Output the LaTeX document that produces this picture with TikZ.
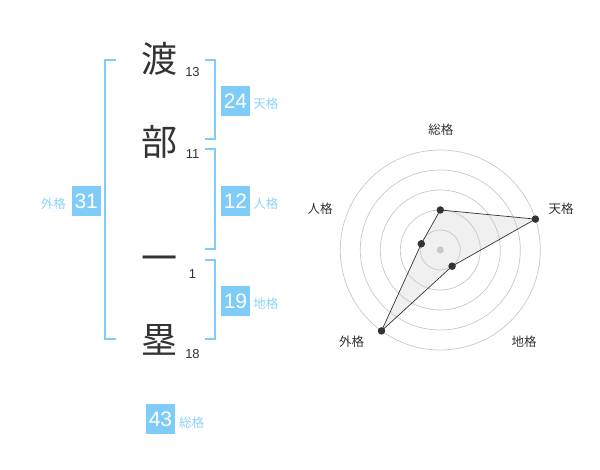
\documentclass[tikz,border=0pt]{standalone}
\usepackage{fontspec}
\setmainfont{Liberation Sans}
\newfontfamily\cjk{Noto Sans CJK JP}
\definecolor{boxblue}{HTML}{80CCF8}
\definecolor{lblblue}{HTML}{8CD2F7}
\definecolor{txtdark}{HTML}{333333}
\definecolor{ringgray}{HTML}{C8C8C8}
\definecolor{polyfill}{HTML}{E6E6E6}
\tikzset{
  bigchar/.style={anchor=base, inner sep=0pt, text=txtdark, font=\cjk\fontsize{36}{36}\selectfont},
  strokenum/.style={anchor=base, inner sep=0pt, text=txtdark, font=\fontsize{13}{13}\selectfont},
  valbox/.style={fill=boxblue, text=white, minimum width=29pt, minimum height=30pt, inner sep=0pt, font=\fontsize{21}{21}\selectfont},
  kaku/.style={inner sep=0pt, text=lblblue, font=\cjk\fontsize{12.5}{12.5}\selectfont},
  bracket/.style={draw=boxblue, line width=2pt},
  radlbl/.style={inner sep=0pt, text=txtdark, font=\cjk\fontsize{12.5}{12.5}\selectfont},
  ring/.style={draw=ringgray, line width=0.7pt},
  dot/.style={circle, fill=txtdark, inner sep=0pt, minimum size=7.5pt},
  cdot/.style={circle, fill=ringgray, inner sep=0pt, minimum size=7pt},
}
\begin{document}
\begin{tikzpicture}[x=1pt, y=-1pt]
\useasboundingbox (0,0) rectangle (600,470);
% characters
\node[bigchar] (c1) at (159.3,72.5) {渡};
\node[bigchar] (c2) at (159.3,155.5) {部};
\node[bigchar] (c3) at (159.3,272) {一};
\node[bigchar] (c4) at (159.3,354) {塁};
\node[strokenum] (n1) at (192.5,76.7) {13};
\node[strokenum] (n2) at (192.5,158.3) {11};
\node[strokenum] (n3) at (192.5,278.3) {1};
\node[strokenum] (n4) at (192.5,358.3) {18};
% brackets
\draw[bracket] (116,60) -- (105,60) -- (105,339.5) -- (116,339.5);
\draw[bracket] (205,60) -- (214.5,60) -- (214.5,139) -- (205,139);
\draw[bracket] (205,149.5) -- (214.5,149.5) -- (214.5,249.5) -- (205,249.5);
\draw[bracket] (205,260) -- (214.5,260) -- (214.5,339.5) -- (205,339.5);
% value boxes
\node[valbox] (ten) at (235.5,101) {24};
\node[kaku] (tenl) at (265.8,103.5) {天格};
\node[valbox] (jin) at (235.5,201) {12};
\node[kaku] (jinl) at (265.8,203.5) {人格};
\node[valbox] (chi) at (235.5,301) {19};
\node[kaku] (chil) at (265.8,303.5) {地格};
\node[valbox] (gai) at (86.2,201) {31};
\node[kaku] (gail) at (53.3,203.3) {外格};
\node[valbox] (sou) at (160.5,419) {43};
\node[kaku] (soul) at (191.7,422.7) {総格};
% radar
\coordinate (O) at (440.3,250);
\coordinate (pS) at (440.3,210);
\coordinate (pT) at (535.4,219.1);
\coordinate (pC) at (452.1,266.2);
\coordinate (pG) at (381.5,330.9);
\coordinate (pJ) at (421.3,243.8);
\fill[polyfill, opacity=0.6] (pS) -- (pT) -- (pC) -- (pG) -- (pJ) -- cycle;
\foreach \r in {20,40,60,80,100} \draw[ring] (O) circle[radius=\r];
\node[cdot] (ctr) at (O) {};
\draw[txtdark, line width=0.7pt] (pS) -- (pT) -- (pC) -- (pG) -- (pJ) -- cycle;
\node[dot] (dS) at (pS) {};
\node[dot] (dT) at (pT) {};
\node[dot] (dC) at (pC) {};
\node[dot] (dG) at (pG) {};
\node[dot] (dJ) at (pJ) {};
\node[radlbl] (lS) at (440.8,130) {総格};
\node[radlbl] (lT) at (561,208.3) {天格};
\node[radlbl] (lC) at (524,341.7) {地格};
\node[radlbl] (lG) at (351.7,341.7) {外格};
\node[radlbl] (lJ) at (320,208.3) {人格};
\end{tikzpicture}
\end{document}
